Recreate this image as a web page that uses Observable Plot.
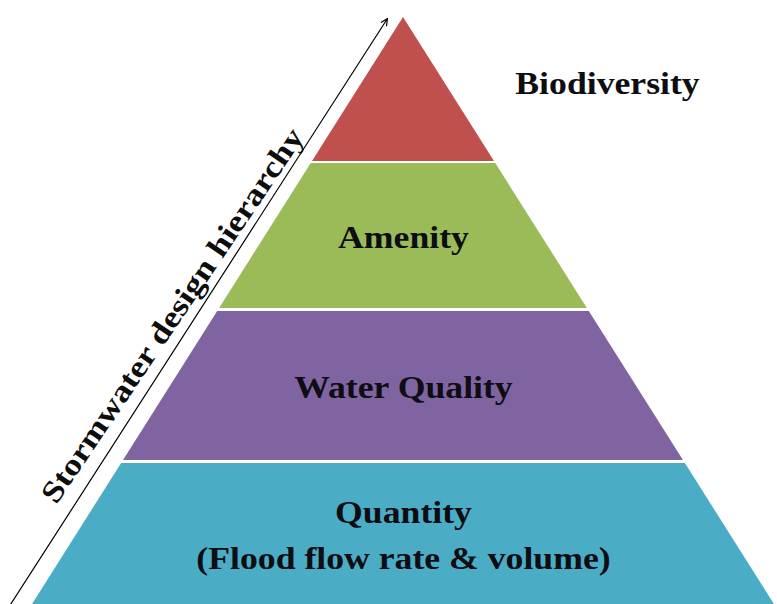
<!DOCTYPE html>
<html>
<head>
<meta charset="utf-8">
<script src="https://cdn.jsdelivr.net/npm/d3@7"></script>
<script src="https://cdn.jsdelivr.net/npm/@observablehq/plot@0.6"></script>
<style>
  html, body { margin: 0; padding: 0; background: #fff; }
  #chart { width: 777px; height: 604px; overflow: hidden; }
</style>
</head>
<body>
<div id="chart"></div>
<script>
// ---- Data (bottom level first) ----
const levels = ["Quantity", "Water Quality", "Amenity", "Biodiversity"];
const labels = ["Quantity\n(Flood flow rate & volume)", "Water Quality", "Amenity", "Biodiversity"];
const bandBottom = [0, 144, 296, 443];   // height units above the base
const bandTop = [141, 293, 441, 587];
const colors = ["#4BACC6", "#8064A2", "#9BBB59", "#C0504D"];
const axisTitle = "Stormwater design hierarchy";

// ---- Geometry / layout ----
const W = 777, H = 604;
const centerX = 403, apex = 587, slope = 0.632;
const halfWidth = h => (apex - h) * slope;
const stretch = 1.17; // horizontal stretch of the source lettering
const font = "'Liberation Serif', 'Times New Roman', serif";

const bands = levels.flatMap((lv, i) => [bandBottom[i], bandTop[i]].map(h => ({
  level: lv, h, xl: centerX - halfWidth(h), xr: centerX + halfWidth(h)
})));

const labelData = levels.map((lv, i) => ({
  level: lv,
  text: labels[i],
  x: lv === "Biodiversity" ? 607 : centerX,
  y: lv === "Biodiversity" ? 522 : (bandBottom[i] + bandTop[i]) / 2
}));

const arrowData = [{x1: 10, y1: 0, x2: 387, y2: 586}];
const titleData = [{x: 172, y: 289, text: axisTitle}];

const plot = Plot.plot({
  width: W, height: H,
  margin: 0,
  x: {domain: [0, W], axis: null},
  y: {domain: [0, H], axis: null},
  color: {domain: levels, range: colors},
  style: {background: "#fff"},
  marks: [
    Plot.areaX(bands, {y: "h", x1: "xl", x2: "xr", fill: "level", z: "level", curve: "linear"}),
    Plot.arrow(arrowData, {x1: "x1", y1: "y1", x2: "x2", y2: "y2", stroke: "#000", strokeWidth: 1.2, headLength: 9, headAngle: 50}),
    Plot.text(labelData, {x: "x", y: "y", text: "text", dy: -3, fontFamily: font, fontWeight: "bold", fontSize: 30.5, lineHeight: 1.5, fill: "#0d0d12", textAnchor: "middle", lineAnchor: "middle"}),
    Plot.text(titleData, {x: "x", y: "y", text: "text", rotate: -56, fontFamily: font, fontWeight: "bold", fontSize: 30.5, fill: "#0d0d0d", textAnchor: "middle", lineAnchor: "middle"})
  ]
});

document.getElementById("chart").appendChild(plot);

// Stretch the lettering horizontally to match the source
plot.querySelectorAll("text").forEach(t => {
  const spans = t.querySelectorAll("tspan");
  const targets = spans.length ? Array.from(spans) : [t];
  targets.forEach(el => {
    const L = el.getComputedTextLength();
    el.setAttribute("textLength", (L * stretch).toFixed(1));
    el.setAttribute("lengthAdjust", "spacingAndGlyphs");
  });
});
</script>
</body>
</html>
